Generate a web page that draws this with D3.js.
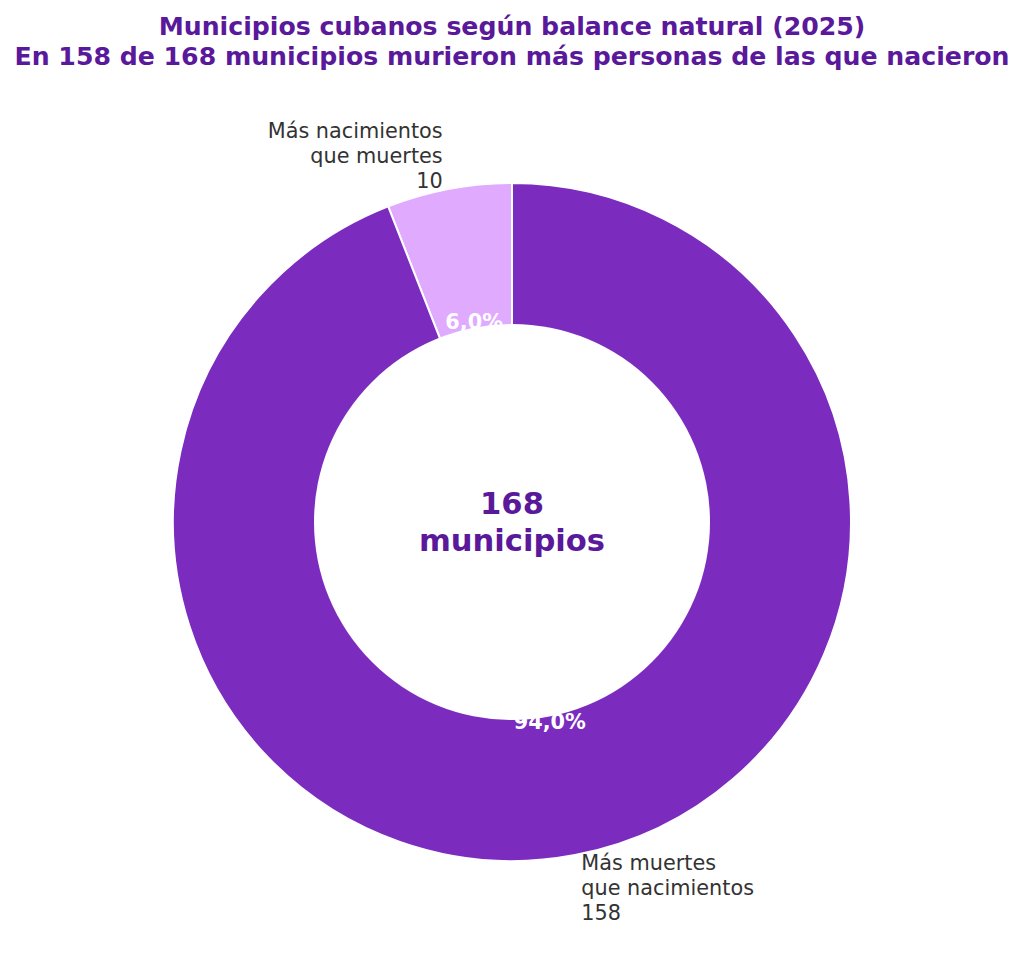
<!DOCTYPE html>
<html><head><meta charset="utf-8">
<script src="https://cdn.jsdelivr.net/npm/d3@7"></script>
<style>body{margin:0;background:#fff;} svg{display:block;}</style>
</head><body>
<svg id="c" width="1024" height="961"></svg>
<script>
const categories = ["Más nacimientos\nque muertes", "Más muertes\nque nacimientos"];
const values = [10, 158];
const titleLines = ["Municipios cubanos según balance natural (2025)", "En 158 de 168 municipios murieron más personas de las que nacieron"];
const centerLines = ["168", "municipios"];
const colors = ["#E0AAFF", "#7B2CBF"];

const svg = d3.select("#c");
const cx = 512, cy = 522, R = 339, r0 = 198;
const font = "DejaVu Sans, sans-serif";

svg.append("g").selectAll("text").data(titleLines).join("text")
  .attr("x", cx).attr("y", (d,i)=>34.5 + i*30)
  .attr("text-anchor","middle").attr("font-family",font).attr("font-weight","bold")
  .attr("font-size",25.2).attr("fill","#5A189A").text(d=>d);

const total = d3.sum(values);
const pie = d3.pie().sort(null).startAngle(0).endAngle(-2*Math.PI);
const arcs = pie(values);
const arc = d3.arc().innerRadius(0).outerRadius(R);
const g = svg.append("g").attr("transform",`translate(${cx},${cy})`);

g.selectAll("path").data(arcs).join("path")
  .attr("d", arc).attr("fill",(d,i)=>colors[i])
  .attr("stroke","#fff").attr("stroke-width",2);

// percentage labels
g.selectAll("text.pct").data(arcs).join("text").attr("class","pct")
  .each(function(d){
    const a = (d.startAngle + d.endAngle)/2;
    const rr = 0.6*R;
    d3.select(this).attr("x", rr*Math.sin(a)).attr("y", -rr*Math.cos(a));
  })
  .attr("text-anchor","middle").attr("dominant-baseline","central")
  .attr("font-family",font).attr("font-weight","bold").attr("font-size",20.8)
  .attr("fill","#fff")
  .text(d=>(d.value/total*100).toFixed(1).replace(".",",")+"%");

// hole on top
g.append("circle").attr("r", r0).attr("fill","#fff");

// outer labels
arcs.forEach((d,i)=>{
  const a = (d.startAngle + d.endAngle)/2;
  const rr = 1.1*R;
  const x = rr*Math.sin(a), y = -rr*Math.cos(a);
  const lines = categories[i].split("\n").concat([String(values[i])]);
  const lh = 25;
  const anchor = x < 0 ? "end" : "start";
  const t = g.append("text").attr("text-anchor",anchor)
    .attr("font-family",font).attr("font-size",20.8).attr("fill","#333");
  lines.forEach((ln,k)=>{
    t.append("tspan").attr("x",x).attr("y", y + (k-(lines.length-1)/2)*lh)
     .attr("dominant-baseline","central").text(ln);
  });
});

// center text
g.selectAll("text.ctr").data(centerLines).join("text").attr("class","ctr")
  .attr("x",0).attr("y",(d,i)=>(i-0.5)*36.7)
  .attr("text-anchor","middle").attr("dominant-baseline","central")
  .attr("font-family",font).attr("font-weight","bold")
  .attr("font-size",30.6).attr("fill","#5A189A").text(d=>d);
</script>
</body></html>
